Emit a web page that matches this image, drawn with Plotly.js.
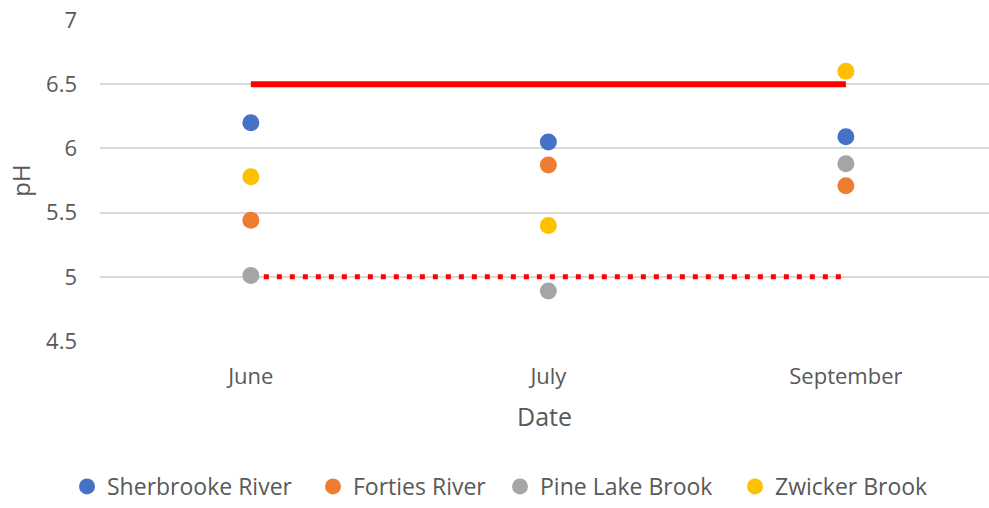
<!DOCTYPE html>
<html><head><meta charset="utf-8">
<script src="https://cdn.plot.ly/plotly-3.0.1.min.js"></script>
<style>body{margin:0;background:#fff}#c{width:989px;height:508px}</style>
</head><body><div id="c"></div>
<script>
var months = ["June", "July", "September"];
var sherbrooke = [6.2, 6.05, 6.09];
var forties = [5.44, 5.87, 5.71];
var pineLake = [5.01, 4.89, 5.88];
var zwicker = [5.78, 5.4, 6.6];
var upperLimit = [6.5, 6.5, 6.5];
var lowerLimit = [5.0, 5.0, 5.0];
var seriesNames = ["Sherbrooke River", "Forties River", "Pine Lake Brook", "Zwicker Brook"];
var seriesColors = ["#4472C4", "#ED7D31", "#A5A5A5", "#FFC000"];
var seriesValues = [sherbrooke, forties, pineLake, zwicker];

var font = "Open Sans, Noto Sans, sans-serif";
var legendIds = ["legend", "legend2", "legend3", "legend4"];
var legendX = [67, 313, 500, 735];
var traces = [
  {x: months, y: upperLimit, mode: "lines", line: {color: "#FF0000", width: 6}, showlegend: false, hoverinfo: "skip"},
  {x: months, y: lowerLimit, mode: "lines", line: {color: "#FF0000", width: 5, dash: "5px,8px"}, showlegend: false, hoverinfo: "skip"}
];
seriesValues.forEach(function (v, i) {
  traces.push({x: months, y: v, mode: "markers", name: seriesNames[i], legend: legendIds[i],
    marker: {color: seriesColors[i], size: 17}});
});

var layout = {
  width: 989, height: 508,
  margin: {l: 100, r: 0, t: 20, b: 167, autoexpand: false},
  paper_bgcolor: "#fff", plot_bgcolor: "#fff",
  font: {family: font, color: "#595959", size: 22},
  showlegend: true,
  xaxis: {type: "category", range: [-0.507, 2.481], showgrid: false, zeroline: false,
    showline: false, ticks: "", ticklabelstandoff: 20,
    tickfont: {size: 22, color: "#595959"},
    title: {text: "Date", font: {size: 25, color: "#595959"}, standoff: 19}},
  yaxis: {range: [4.5, 7], dtick: 0.5, tick0: 4.5, showgrid: true, gridcolor: "#D9D9D9", gridwidth: 2,
    zeroline: false, showline: false, ticks: "", ticklabelstandoff: 22,
    tickfont: {size: 22, color: "#595959"},
    title: {text: "pH", font: {size: 24, color: "#595959"}, standoff: 8}}
};
legendIds.forEach(function (id, i) {
  layout[id] = {orientation: "h", xref: "container", yref: "container",
    x: legendX[i] / 989, xanchor: "left", y: -0.015, yanchor: "bottom",
    font: {size: 23, color: "#595959"}, itemwidth: 30, bgcolor: "rgba(0,0,0,0)", borderwidth: 0};
});
Plotly.newPlot("c", traces, layout, {displayModeBar: false});
</script></body></html>
